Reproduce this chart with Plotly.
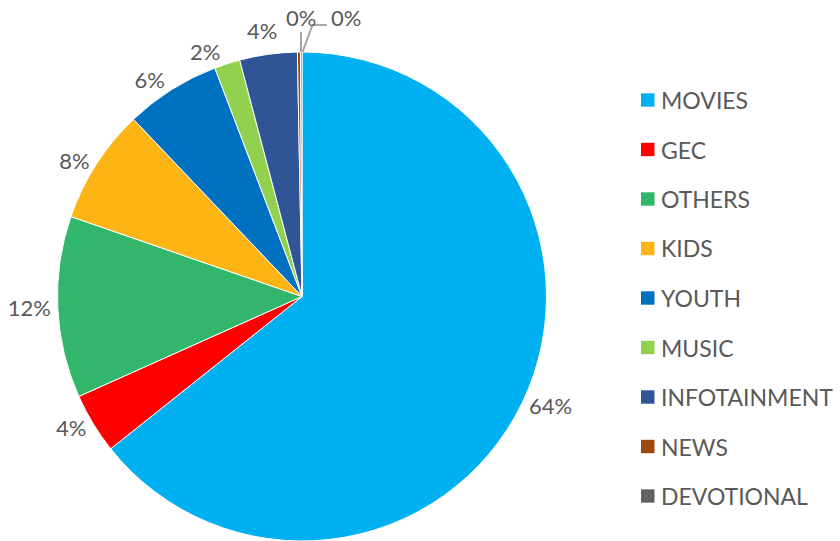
import plotly.graph_objects as go

categories = ["MOVIES", "GEC", "OTHERS", "KIDS", "YOUTH", "MUSIC",
              "INFOTAINMENT", "NEWS", "DEVOTIONAL"]
shares = [64.3, 4.0, 12.0, 7.6, 6.3, 1.7, 3.8, 0.2, 0.1]
colors = ["#00B0F0", "#FF0000", "#31B66B", "#FDB516", "#0070C0",
          "#92D050", "#2F5597", "#9E480E", "#636363"]

W, H = 840, 541
cx, top = 302, 52
r = (H - top) / 2.0
FONT = "Lato"
GREY = "#595959"
LEADER = "#A6A6A6"
LABEL_SIZE = 22

total = sum(shares)
pct_text = [f"{round(100 * v / total):d}%" for v in shares]
# the three slices next to the top are labelled by hand (as in the reference)
positions = ["outside"] * 6 + ["none", "none", "none"]

fig = go.Figure()
fig.add_trace(go.Pie(
    labels=categories,
    values=shares,
    sort=False,
    direction="clockwise",
    rotation=0,
    automargin=False,
    marker=dict(colors=colors, line=dict(color="white", width=1)),
    texttemplate="%{percent:.0%}",
    textposition=positions,
    outsidetextfont=dict(family=FONT, size=LABEL_SIZE, color=GREY),
    showlegend=False,
    domain=dict(x=[(cx - r) / W, (cx + r) / W], y=[0, (H - top) / H]),
))

def px(x):
    return x / W

def py(y):
    return 1 - y / H

# INFOTAINMENT label
fig.add_annotation(xref="paper", yref="paper", x=px(262), y=py(30),
                   text=pct_text[6], showarrow=False, xanchor="center", yanchor="middle",
                   font=dict(family=FONT, size=LABEL_SIZE, color=GREY))
# NEWS label: straight leader line up from the top of the pie
fig.add_annotation(xref="paper", yref="paper", x=px(301), y=py(top),
                   ax=0, ay=-35, text=pct_text[7], showarrow=True,
                   arrowhead=0, arrowwidth=2, arrowcolor=LEADER, standoff=0,
                   font=dict(family=FONT, size=LABEL_SIZE, color=GREY))
# DEVOTIONAL label: bent leader line to the right
fig.add_shape(type="path", xref="paper", yref="paper",
              path=f"M {px(302.5)} {py(top)} L {px(312.5)} {py(25)} L {px(327)} {py(25)}",
              line=dict(color=LEADER, width=2))
fig.add_annotation(xref="paper", yref="paper", x=px(329), y=py(18),
                   text=pct_text[8], showarrow=False, xanchor="left", yanchor="middle",
                   font=dict(family=FONT, size=LABEL_SIZE, color=GREY))

# manual legend (matches the spaced-out legend rows of the reference)
row0, gap = 100, 49.5
for i, (name, col) in enumerate(zip(categories, colors)):
    yc = row0 + i * gap
    fig.add_shape(type="rect", xref="paper", yref="paper",
                  x0=px(641), x1=px(654.5),
                  y0=py(yc + 6.7), y1=py(yc - 6.7),
                  fillcolor=col, line=dict(width=0))
    fig.add_annotation(xref="paper", yref="paper", x=px(659), y=py(yc),
                       text=name, showarrow=False, xanchor="left", yanchor="middle",
                       font=dict(family=FONT, size=23, color=GREY))

fig.update_layout(
    width=W, height=H,
    margin=dict(l=0, r=0, t=0, b=0, autoexpand=False),
    paper_bgcolor="white", plot_bgcolor="white",
)
fig.write_html("out.html")
